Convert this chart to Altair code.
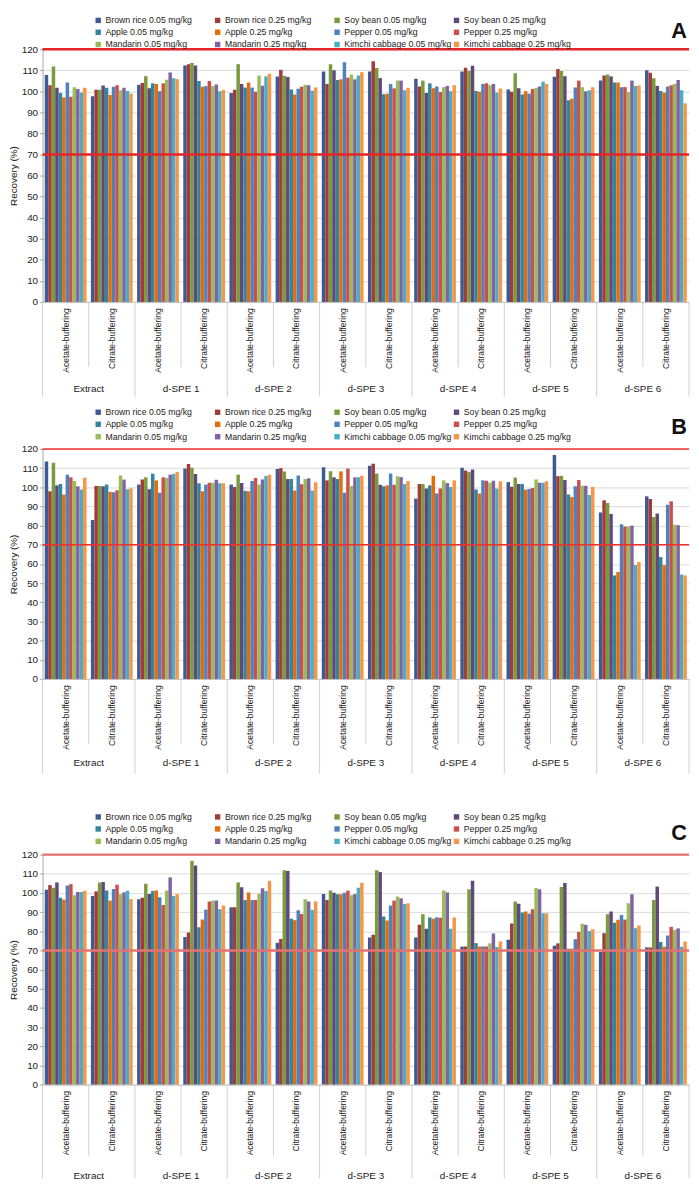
import altair as alt
import pandas as pd

steps = ["Extract", "d-SPE 1", "d-SPE 2", "d-SPE 3", "d-SPE 4", "d-SPE 5", "d-SPE 6"]
buffers = ["Acetate-buffering", "Citrate-buffering"]
series = [
    "Brown rice 0.05 mg/kg", "Brown rice 0.25 mg/kg", "Soy bean 0.05 mg/kg", "Soy bean 0.25 mg/kg",
    "Apple 0.05 mg/kg", "Apple 0.25 mg/kg", "Pepper 0.05 mg/kg", "Pepper 0.25 mg/kg",
    "Mandarin 0.05 mg/kg", "Mandarin 0.25 mg/kg", "Kimchi cabbage 0.05 mg/kg", "Kimchi cabbage 0.25 mg/kg",
]
colors = ["#3F5A93", "#A03C3A", "#7A9A3C", "#5F497A", "#31859C", "#E46C0A",
          "#4F81BD", "#C8504D", "#9BBB59", "#8064A2", "#4BACC6", "#F79646"]
limits = [70, 120]
y_ticks = [0, 10, 20, 30, 40, 50, 60, 70, 80, 90, 100, 110, 120]

# rows: Extract Ac, Extract Ci, d-SPE1 Ac, d-SPE1 Ci, ... ; columns follow `series`
recovery_A = [
    [107.8, 102.9, 111.8, 101.7, 99.2, 97.1, 104.2, 97.4, 102.0, 101.1, 99.5, 101.7],
    [97.7, 100.8, 100.8, 102.8, 101.7, 98.3, 102.2, 102.9, 100.5, 101.7, 100.2, 98.9],
    [103.1, 104.0, 107.2, 101.5, 103.8, 103.5, 100.0, 103.8, 105.5, 109.0, 106.2, 105.8],
    [112.3, 112.9, 113.5, 112.3, 104.9, 102.2, 102.5, 104.9, 102.5, 103.2, 100.0, 100.6],
    [99.2, 100.8, 112.9, 103.5, 101.8, 104.2, 101.8, 99.8, 107.5, 102.6, 107.1, 108.3],
    [107.1, 110.2, 107.4, 106.8, 100.9, 98.5, 101.2, 102.2, 103.1, 102.9, 100.3, 101.8],
    [109.4, 103.5, 112.9, 110.0, 105.4, 105.7, 113.8, 106.5, 108.0, 105.7, 107.5, 109.1],
    [109.4, 114.3, 111.1, 106.3, 98.6, 98.9, 103.5, 101.4, 105.1, 105.1, 100.5, 101.7],
    [106.0, 102.3, 105.1, 99.2, 103.8, 101.5, 102.3, 99.7, 102.0, 102.6, 100.0, 102.9],
    [109.4, 111.2, 109.7, 112.2, 100.2, 99.8, 103.5, 103.8, 102.9, 103.5, 99.4, 101.4],
    [100.9, 99.8, 108.6, 101.5, 98.5, 100.0, 98.9, 101.1, 101.7, 102.3, 104.6, 103.5],
    [106.9, 110.6, 109.7, 107.2, 95.8, 96.5, 101.8, 105.1, 102.0, 100.0, 100.5, 102.0],
    [105.1, 107.5, 108.0, 107.1, 104.2, 104.2, 102.0, 102.0, 99.7, 105.1, 102.5, 102.8],
    [110.0, 108.8, 106.2, 102.6, 100.2, 99.4, 102.3, 102.9, 103.5, 105.4, 100.5, 94.3],
]
recovery_B = [
    [113.5, 97.9, 112.8, 101.0, 101.7, 96.2, 106.6, 105.2, 103.3, 100.5, 98.8, 105.0],
    [83.0, 100.7, 100.7, 100.5, 101.4, 97.6, 97.4, 98.4, 106.2, 104.0, 99.0, 99.5],
    [101.4, 104.1, 105.2, 99.0, 107.1, 103.6, 97.2, 105.2, 104.8, 106.6, 106.9, 107.9],
    [109.8, 112.2, 110.2, 106.9, 102.1, 97.9, 101.4, 102.4, 102.4, 104.0, 102.1, 102.1],
    [101.4, 100.2, 106.6, 102.2, 98.1, 97.9, 103.3, 104.8, 101.4, 104.1, 105.9, 106.6],
    [109.5, 110.0, 108.3, 104.3, 104.3, 98.3, 106.2, 101.6, 104.3, 104.7, 98.3, 102.6],
    [110.5, 103.6, 108.4, 105.2, 104.3, 108.3, 97.1, 109.8, 100.7, 105.2, 105.2, 106.0],
    [111.2, 112.3, 107.2, 101.3, 100.5, 101.0, 107.2, 101.3, 105.8, 105.3, 101.7, 103.2],
    [94.1, 101.7, 101.7, 99.4, 101.0, 106.0, 96.8, 99.4, 103.6, 102.2, 100.1, 103.6],
    [110.2, 108.8, 107.9, 109.3, 98.9, 96.7, 103.6, 103.4, 102.4, 103.4, 99.3, 103.1],
    [102.7, 100.3, 105.1, 101.7, 101.7, 98.7, 99.1, 99.6, 104.1, 102.4, 102.4, 103.1],
    [116.9, 105.8, 106.0, 103.8, 96.3, 94.9, 100.5, 103.8, 100.8, 100.8, 96.0, 100.1],
    [86.8, 93.2, 91.8, 86.1, 54.0, 55.8, 80.7, 79.5, 79.5, 80.0, 59.4, 61.0],
    [95.3, 93.9, 84.5, 86.3, 63.6, 59.4, 90.9, 92.7, 80.5, 80.2, 54.5, 54.0],
]
recovery_C = [
    [101.7, 104.1, 102.7, 105.5, 97.5, 96.5, 103.9, 104.6, 98.8, 100.5, 100.5, 101.2],
    [98.4, 100.8, 105.5, 105.7, 101.3, 96.0, 102.0, 104.3, 99.3, 100.3, 101.2, 96.9],
    [96.7, 97.5, 104.8, 99.4, 101.0, 101.3, 97.7, 93.7, 101.3, 108.1, 98.4, 99.4],
    [77.0, 79.4, 116.8, 114.3, 82.1, 86.1, 91.3, 95.5, 96.0, 96.0, 91.5, 93.4],
    [92.5, 92.5, 105.5, 103.0, 96.3, 100.3, 96.3, 96.3, 99.6, 102.4, 101.0, 106.4],
    [74.0, 76.0, 111.8, 111.5, 86.5, 85.7, 91.0, 89.0, 96.7, 95.5, 91.2, 95.5],
    [99.4, 96.3, 101.3, 100.1, 99.3, 99.3, 100.1, 101.2, 98.8, 99.4, 102.7, 105.3],
    [76.8, 78.2, 111.9, 110.9, 87.7, 85.6, 93.4, 96.0, 98.1, 97.2, 94.3, 94.6],
    [76.8, 83.4, 88.9, 81.3, 87.2, 86.5, 87.3, 87.0, 101.3, 100.3, 81.3, 87.2],
    [72.0, 72.0, 101.9, 106.4, 73.8, 72.1, 72.1, 72.1, 73.7, 78.9, 71.8, 74.7],
    [75.6, 84.0, 95.5, 94.4, 89.8, 90.3, 89.2, 91.5, 102.6, 101.9, 89.4, 89.4],
    [72.5, 73.7, 103.1, 105.2, 70.9, 70.9, 75.9, 79.7, 83.9, 83.4, 80.1, 81.1],
    [69.2, 79.0, 88.9, 90.3, 84.4, 86.0, 88.5, 86.1, 94.6, 99.3, 81.6, 83.0],
    [71.6, 71.6, 96.3, 103.3, 74.4, 71.9, 77.8, 82.3, 80.8, 81.5, 71.9, 74.7],
]

FONT = "Liberation Sans"
W = 655
conds = [f"{s}|{b}" for s in steps for b in buffers]


def panel(values, letter, height, legend_y, row_pad, letter_y, red_color, red_width,
          name_off, sep_long, sep_short):
    rows = []
    for ci, cond in enumerate(conds):
        for k, s in enumerate(series):
            rows.append({"cond": cond, "series": s, "recovery": values[ci][k]})
    df = pd.DataFrame(rows)
    xscale = alt.Scale(domain=conds, paddingInner=0, paddingOuter=0)
    yscale = alt.Scale(domain=[0, 120])
    xaxis = alt.Axis(title=None, labelAngle=-90, ticks=False, grid=False, labelOverlap=False,
                     labelExpr="substring(datum.value, indexof(datum.value, '|') + 1)",
                     labelPadding=6, labelFontSize=8.6, labelFont=FONT,
                     labelColor="#222222", domainColor="#BFBFBF")
    yaxis = alt.Axis(values=y_ticks, title="Recovery (%)", labelOverlap=False,
                     titleFontSize=10, titleFontWeight="normal", titleFont=FONT,
                     titleColor="#222222", titlePadding=3,
                     labelFontSize=10, labelFont=FONT, labelColor="#222222",
                     labelPadding=2, tickSize=3, tickColor="#A6A6A6",
                     domainColor="#A6A6A6", gridColor="#D9D9D9")

    bars = alt.Chart(df).mark_bar().encode(
        x=alt.X("cond:N", scale=xscale, sort=conds, axis=xaxis),
        xOffset=alt.XOffset("series:N", sort=series,
                            scale=alt.Scale(domain=series, paddingInner=0, paddingOuter=0.63)),
        y=alt.Y("recovery:Q", scale=yscale, axis=yaxis),
        color=alt.Color("series:N", sort=series,
                        scale=alt.Scale(domain=series, range=colors),
                        legend=alt.Legend(title=None, orient="none", legendX=52, legendY=legend_y,
                                          direction="horizontal", columns=4, symbolType="square",
                                          symbolSize=30, symbolStrokeWidth=0, labelFontSize=8.8,
                                          labelFont=FONT, labelColor="#222222", columnPadding=0,
                                          rowPadding=row_pad, gridAlign="all", labelOffset=3,
                                          labelLimit=200)),
    )

    red = alt.Chart(pd.DataFrame({"limit": limits})).mark_rule(
        color=red_color, strokeWidth=red_width
    ).encode(y=alt.Y("limit:Q", scale=yscale, axis=yaxis))

    acet = pd.DataFrame({"cond": [f"{s}|{buffers[0]}" for s in steps]})
    citr = pd.DataFrame({"cond": [f"{s}|{buffers[1]}" for s in steps], "step": steps})
    last = pd.DataFrame({"cond": [conds[-1]]})

    sep_l = alt.Chart(acet).mark_rule(color="#D0D0D0", strokeWidth=1).encode(
        x=alt.X("cond:N", bandPosition=0, scale=xscale, axis=xaxis),
        y=alt.value(height), y2=alt.value(height + sep_long))
    sep_end = alt.Chart(last).mark_rule(color="#D0D0D0", strokeWidth=1).encode(
        x=alt.X("cond:N", bandPosition=1, scale=xscale, axis=xaxis),
        y=alt.value(height), y2=alt.value(height + sep_long))
    sep_s = alt.Chart(citr).mark_rule(color="#D0D0D0", strokeWidth=1).encode(
        x=alt.X("cond:N", bandPosition=0, scale=xscale, axis=xaxis),
        y=alt.value(height), y2=alt.value(height + sep_short))
    names = alt.Chart(citr).mark_text(fontSize=10, font=FONT, color="#222222",
                                      align="center", baseline="middle").encode(
        x=alt.X("cond:N", bandPosition=0, scale=xscale, axis=xaxis),
        y=alt.value(height + name_off), text="step:N")
    let = alt.Chart(pd.DataFrame({"letter": [letter]})).mark_text(
        fontSize=22, fontWeight="bold", font=FONT, color="#111111",
        align="center", baseline="middle").encode(
        x=alt.value(645), y=alt.value(letter_y), text="letter:N")

    return alt.layer(bars, red, sep_l, sep_end, sep_s, names, let).properties(
        width=W, height=height)


pA = panel(recovery_A, "A", 256, -34, 2.4, -18, "#E3262A", 2.5, 88, 96, 66)
pB = panel(recovery_B, "B", 233, -42, 2.6, -22, "#F0302C", 1.4, 85, 96, 66)
pC = panel(recovery_C, "C", 233, -43, 2.6, -22, "#E57373", 2.5, 93, 95, 72)

inner = alt.vconcat(pB, pC, spacing=38).resolve_scale(color="independent").resolve_legend(color="independent")
chart = alt.vconcat(pA, inner, spacing=10).resolve_scale(color="independent").resolve_legend(color="independent")
chart = chart.properties(padding={"left": 0, "top": 0, "right": 0, "bottom": 0}).configure_view(stroke=None)

chart.save("out.html", embed_options={"renderer": "svg", "actions": False})
